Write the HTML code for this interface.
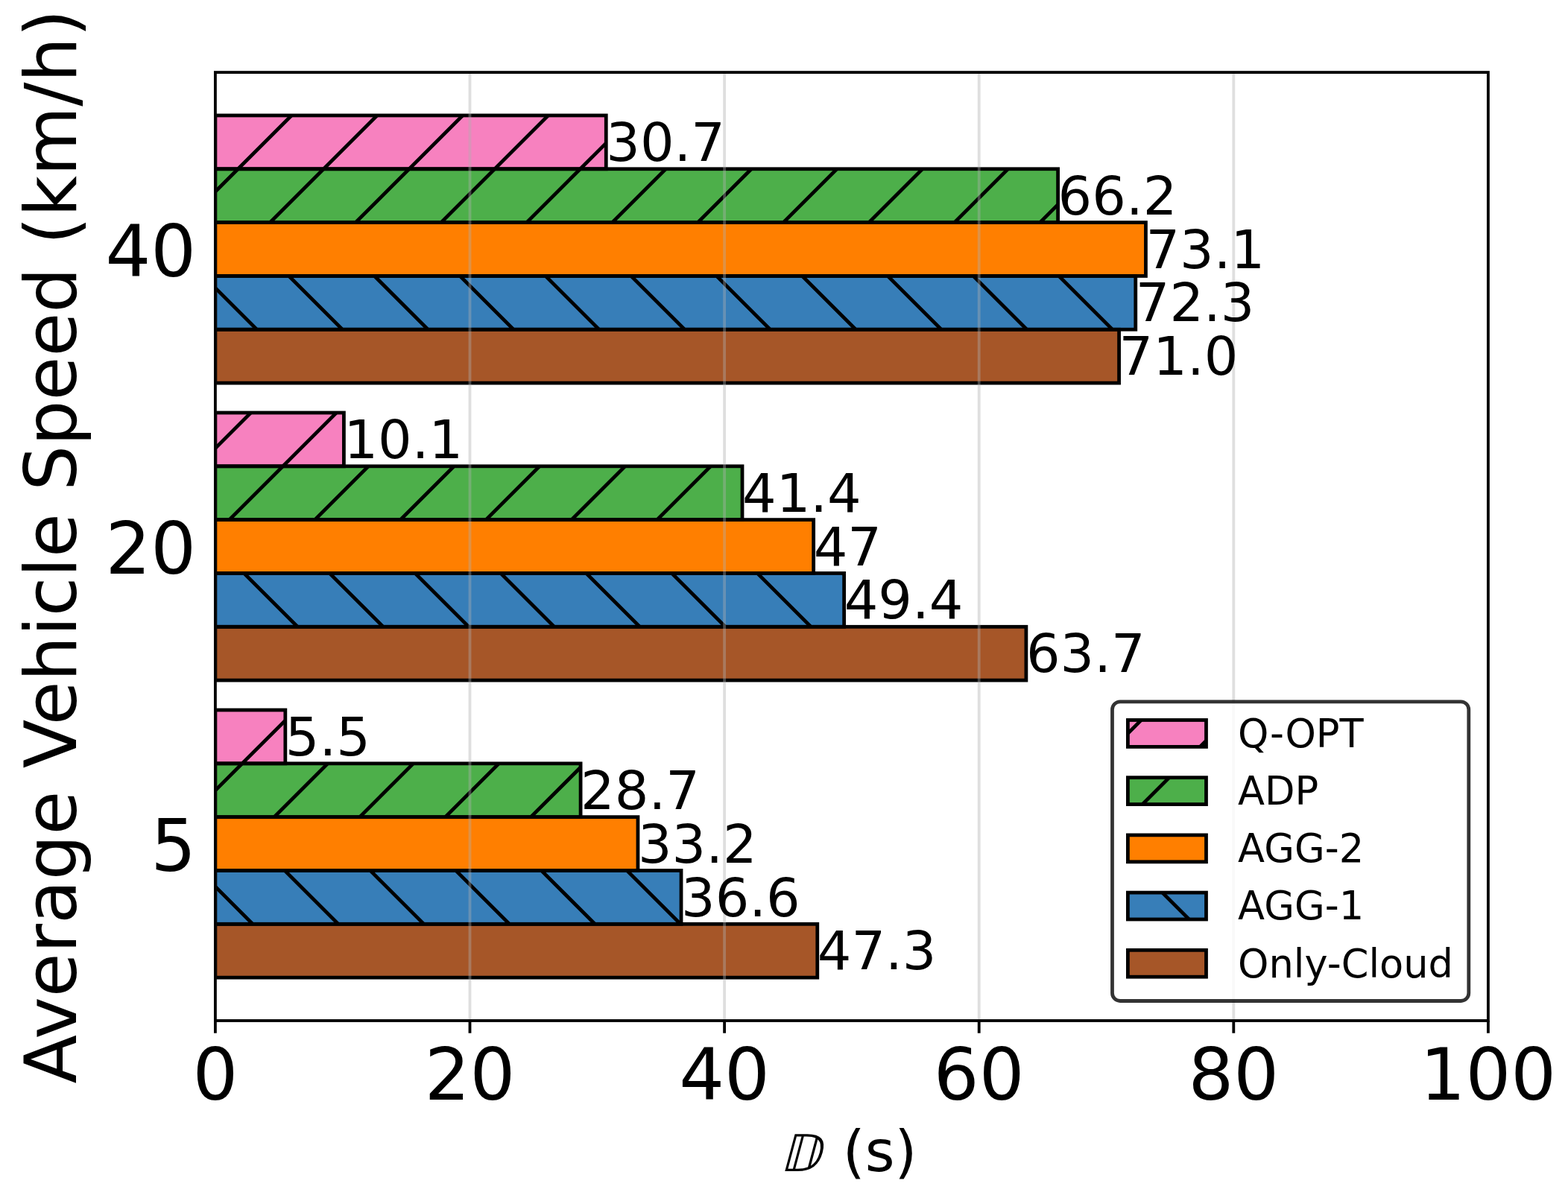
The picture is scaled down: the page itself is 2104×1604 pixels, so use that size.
<!DOCTYPE html>
<html><head><meta charset="utf-8"><title>Average Vehicle Speed chart</title>
<style>html,body{margin:0;padding:0;background:#fff;}svg{display:block;}text{font-family:"DejaVu Sans","Liberation Sans",sans-serif;fill:#000;}</style></head><body>
<svg width="2104" height="1604" viewBox="0 0 2104 1604">
<rect x="0" y="0" width="2104" height="1604" fill="#ffffff"/>
<defs>
<clipPath id="cf"><rect x="288.90" y="953.02" width="93.94" height="71.83"/><rect x="288.90" y="553.99" width="172.51" height="71.83"/><rect x="288.90" y="154.96" width="524.36" height="71.83"/><rect x="288.90" y="1024.84" width="490.20" height="71.83"/><rect x="288.90" y="625.81" width="707.11" height="71.83"/><rect x="288.90" y="226.78" width="1130.70" height="71.83"/></clipPath>
<clipPath id="cfl"><rect x="1513.40" y="966.50" width="105.10" height="35.90"/><rect x="1513.40" y="1043.70" width="105.10" height="35.90"/></clipPath>
<clipPath id="cb"><rect x="288.90" y="1168.49" width="625.13" height="71.83"/><rect x="288.90" y="769.46" width="843.75" height="71.83"/><rect x="288.90" y="370.43" width="1234.88" height="71.83"/></clipPath>
<clipPath id="cbl"><rect x="1513.40" y="1198.10" width="105.10" height="35.90"/></clipPath>
<clipPath id="axclip"><rect x="288.90" y="97.10" width="1708.00" height="1272.90"/></clipPath>
</defs>
<g id="bars" clip-path="url(#axclip)">
<rect x="288.90" y="953.02" width="93.94" height="71.83" fill="#f781bf"/>
<rect x="288.90" y="553.99" width="172.51" height="71.83" fill="#f781bf"/>
<rect x="288.90" y="154.96" width="524.36" height="71.83" fill="#f781bf"/>
<rect x="288.90" y="1024.84" width="490.20" height="71.83" fill="#4daf4a"/>
<rect x="288.90" y="625.81" width="707.11" height="71.83" fill="#4daf4a"/>
<rect x="288.90" y="226.78" width="1130.70" height="71.83" fill="#4daf4a"/>
<rect x="288.90" y="1096.67" width="567.06" height="71.83" fill="#ff7f00"/>
<rect x="288.90" y="697.64" width="802.76" height="71.83" fill="#ff7f00"/>
<rect x="288.90" y="298.61" width="1248.55" height="71.83" fill="#ff7f00"/>
<rect x="288.90" y="1168.49" width="625.13" height="71.83" fill="#377eb8"/>
<rect x="288.90" y="769.46" width="843.75" height="71.83" fill="#377eb8"/>
<rect x="288.90" y="370.43" width="1234.88" height="71.83" fill="#377eb8"/>
<rect x="288.90" y="1240.32" width="807.88" height="71.83" fill="#a65628"/>
<rect x="288.90" y="841.29" width="1088.00" height="71.83" fill="#a65628"/>
<rect x="288.90" y="442.26" width="1212.68" height="71.83" fill="#a65628"/>
<path clip-path="url(#cf)" d="M-1178.20 1380.00L114.70 87.10M-1063.40 1380.00L229.50 87.10M-948.60 1380.00L344.30 87.10M-833.80 1380.00L459.10 87.10M-719.00 1380.00L573.90 87.10M-604.20 1380.00L688.70 87.10M-489.40 1380.00L803.50 87.10M-374.60 1380.00L918.30 87.10M-259.80 1380.00L1033.10 87.10M-145.00 1380.00L1147.90 87.10M-30.20 1380.00L1262.70 87.10M84.60 1380.00L1377.50 87.10M199.40 1380.00L1492.30 87.10M314.20 1380.00L1607.10 87.10M429.00 1380.00L1721.90 87.10M543.80 1380.00L1836.70 87.10M658.60 1380.00L1951.50 87.10M773.40 1380.00L2066.30 87.10M888.20 1380.00L2181.10 87.10M1003.00 1380.00L2295.90 87.10M1117.80 1380.00L2410.70 87.10M1232.60 1380.00L2525.50 87.10M1347.40 1380.00L2640.30 87.10M1462.20 1380.00L2755.10 87.10M1577.00 1380.00L2869.90 87.10M1691.80 1380.00L2984.70 87.10" stroke="#000" stroke-width="4.78" fill="none"/>
<path clip-path="url(#cb)" d="M-1158.50 87.10L134.40 1380.00M-1043.70 87.10L249.20 1380.00M-928.90 87.10L364.00 1380.00M-814.10 87.10L478.80 1380.00M-699.30 87.10L593.60 1380.00M-584.50 87.10L708.40 1380.00M-469.70 87.10L823.20 1380.00M-354.90 87.10L938.00 1380.00M-240.10 87.10L1052.80 1380.00M-125.30 87.10L1167.60 1380.00M-10.50 87.10L1282.40 1380.00M104.30 87.10L1397.20 1380.00M219.10 87.10L1512.00 1380.00M333.90 87.10L1626.80 1380.00M448.70 87.10L1741.60 1380.00M563.50 87.10L1856.40 1380.00M678.30 87.10L1971.20 1380.00M793.10 87.10L2086.00 1380.00M907.90 87.10L2200.80 1380.00M1022.70 87.10L2315.60 1380.00M1137.50 87.10L2430.40 1380.00M1252.30 87.10L2545.20 1380.00M1367.10 87.10L2660.00 1380.00M1481.90 87.10L2774.80 1380.00M1596.70 87.10L2889.60 1380.00M1711.50 87.10L3004.40 1380.00" stroke="#000" stroke-width="4.78" fill="none"/>
<rect x="288.90" y="953.02" width="93.94" height="71.83" fill="none" stroke="#000" stroke-width="4.78" stroke-linejoin="miter"/>
<rect x="288.90" y="553.99" width="172.51" height="71.83" fill="none" stroke="#000" stroke-width="4.78" stroke-linejoin="miter"/>
<rect x="288.90" y="154.96" width="524.36" height="71.83" fill="none" stroke="#000" stroke-width="4.78" stroke-linejoin="miter"/>
<rect x="288.90" y="1024.84" width="490.20" height="71.83" fill="none" stroke="#000" stroke-width="4.78" stroke-linejoin="miter"/>
<rect x="288.90" y="625.81" width="707.11" height="71.83" fill="none" stroke="#000" stroke-width="4.78" stroke-linejoin="miter"/>
<rect x="288.90" y="226.78" width="1130.70" height="71.83" fill="none" stroke="#000" stroke-width="4.78" stroke-linejoin="miter"/>
<rect x="288.90" y="1096.67" width="567.06" height="71.83" fill="none" stroke="#000" stroke-width="4.78" stroke-linejoin="miter"/>
<rect x="288.90" y="697.64" width="802.76" height="71.83" fill="none" stroke="#000" stroke-width="4.78" stroke-linejoin="miter"/>
<rect x="288.90" y="298.61" width="1248.55" height="71.83" fill="none" stroke="#000" stroke-width="4.78" stroke-linejoin="miter"/>
<rect x="288.90" y="1168.49" width="625.13" height="71.83" fill="none" stroke="#000" stroke-width="4.78" stroke-linejoin="miter"/>
<rect x="288.90" y="769.46" width="843.75" height="71.83" fill="none" stroke="#000" stroke-width="4.78" stroke-linejoin="miter"/>
<rect x="288.90" y="370.43" width="1234.88" height="71.83" fill="none" stroke="#000" stroke-width="4.78" stroke-linejoin="miter"/>
<rect x="288.90" y="1240.32" width="807.88" height="71.83" fill="none" stroke="#000" stroke-width="4.78" stroke-linejoin="miter"/>
<rect x="288.90" y="841.29" width="1088.00" height="71.83" fill="none" stroke="#000" stroke-width="4.78" stroke-linejoin="miter"/>
<rect x="288.90" y="442.26" width="1212.68" height="71.83" fill="none" stroke="#000" stroke-width="4.78" stroke-linejoin="miter"/>
</g>
<g id="grid" clip-path="url(#axclip)" stroke="#b0b0b0" stroke-opacity="0.4" stroke-width="3.83">
<line x1="288.90" y1="1370.00" x2="288.90" y2="97.10"/>
<line x1="630.50" y1="1370.00" x2="630.50" y2="97.10"/>
<line x1="972.10" y1="1370.00" x2="972.10" y2="97.10"/>
<line x1="1313.70" y1="1370.00" x2="1313.70" y2="97.10"/>
<line x1="1655.30" y1="1370.00" x2="1655.30" y2="97.10"/>
<line x1="1996.90" y1="1370.00" x2="1996.90" y2="97.10"/>
</g>
<rect x="288.90" y="97.10" width="1708.00" height="1272.90" fill="none" stroke="#000" stroke-width="3.83" stroke-linejoin="miter" stroke-linecap="square"/>
<g stroke="#000" stroke-width="3.83">
<line x1="288.90" y1="1370.00" x2="288.90" y2="1386.74"/>
<line x1="630.50" y1="1370.00" x2="630.50" y2="1386.74"/>
<line x1="972.10" y1="1370.00" x2="972.10" y2="1386.74"/>
<line x1="1313.70" y1="1370.00" x2="1313.70" y2="1386.74"/>
<line x1="1655.30" y1="1370.00" x2="1655.30" y2="1386.74"/>
<line x1="1996.90" y1="1370.00" x2="1996.90" y2="1386.74"/>
</g>
<g id="vals" font-size="71.75">
<text x="382.84" y="1014.03">5.5</text>
<text x="461.41" y="615.00">10.1</text>
<text x="813.26" y="215.97">30.7</text>
<text x="779.10" y="1085.85">28.7</text>
<text x="996.01" y="686.82">41.4</text>
<text x="1419.60" y="287.80">66.2</text>
<text x="855.96" y="1157.68">33.2</text>
<text x="1091.66" y="758.65">47</text>
<text x="1537.45" y="359.62">73.1</text>
<text x="914.03" y="1229.50">36.6</text>
<text x="1132.65" y="830.48">49.4</text>
<text x="1523.78" y="431.45">72.3</text>
<text x="1096.78" y="1301.33">47.3</text>
<text x="1376.90" y="902.30">63.7</text>
<text x="1501.58" y="503.27">71.0</text>
</g>
<g id="yticks" font-size="95.67" text-anchor="end">
<text x="263.2" y="1168.88">5</text>
<text x="263.2" y="769.85">20</text>
<text x="263.2" y="370.82">40</text>
</g>
<g id="xticks" font-size="95.67" text-anchor="middle">
<text x="288.90" y="1476.3">0</text>
<text x="630.50" y="1476.3">20</text>
<text x="972.10" y="1476.3">40</text>
<text x="1313.70" y="1476.3">60</text>
<text x="1655.30" y="1476.3">80</text>
<text x="1996.90" y="1476.3">100</text>
</g>
<text transform="translate(1045.8 1571.8) skewX(-15) scale(0.97 1)" font-size="68.3">𝔻</text>
<text x="1130.85" y="1572.0" font-size="76.53">(s)</text>
<text transform="translate(102.0 733.55) rotate(-90)" font-size="95.67" text-anchor="middle">Average Vehicle Speed (km/h)</text>
<rect x="1492.50" y="941.80" width="478.30" height="401.70" rx="10.52" ry="10.52" fill="#ffffff" fill-opacity="0.8" stroke="#000" stroke-opacity="0.8" stroke-width="4.78"/>
<rect x="1513.40" y="966.50" width="105.10" height="35.90" fill="#f781bf"/>
<rect x="1513.40" y="1043.70" width="105.10" height="35.90" fill="#4daf4a"/>
<rect x="1513.40" y="1120.90" width="105.10" height="35.90" fill="#ff7f00"/>
<rect x="1513.40" y="1198.10" width="105.10" height="35.90" fill="#377eb8"/>
<rect x="1513.40" y="1275.30" width="105.10" height="35.90" fill="#a65628"/>
<path clip-path="url(#cfl)" d="M908.20 1360.00L1338.20 930.00M1023.00 1360.00L1453.00 930.00M1137.80 1360.00L1567.80 930.00M1252.60 1360.00L1682.60 930.00M1367.40 1360.00L1797.40 930.00M1482.20 1360.00L1912.20 930.00M1597.00 1360.00L2027.00 930.00M1711.80 1360.00L2141.80 930.00M1826.60 1360.00L2256.60 930.00" stroke="#000" stroke-width="4.78" fill="none"/>
<path clip-path="url(#cbl)" d="M947.20 930.00L1377.20 1360.00M1062.00 930.00L1492.00 1360.00M1176.80 930.00L1606.80 1360.00M1291.60 930.00L1721.60 1360.00M1406.40 930.00L1836.40 1360.00M1521.20 930.00L1951.20 1360.00M1636.00 930.00L2066.00 1360.00M1750.80 930.00L2180.80 1360.00" stroke="#000" stroke-width="4.78" fill="none"/>
<rect x="1513.40" y="966.50" width="105.10" height="35.90" fill="none" stroke="#000" stroke-width="4.78"/>
<rect x="1513.40" y="1043.70" width="105.10" height="35.90" fill="none" stroke="#000" stroke-width="4.78"/>
<rect x="1513.40" y="1120.90" width="105.10" height="35.90" fill="none" stroke="#000" stroke-width="4.78"/>
<rect x="1513.40" y="1198.10" width="105.10" height="35.90" fill="none" stroke="#000" stroke-width="4.78"/>
<rect x="1513.40" y="1275.30" width="105.10" height="35.90" fill="none" stroke="#000" stroke-width="4.78"/>
<g font-size="52.62">
<text x="1661.1" y="1002.80">Q-OPT</text>
<text x="1661.1" y="1080.00">ADP</text>
<text x="1661.1" y="1157.20">AGG-2</text>
<text x="1661.1" y="1234.40">AGG-1</text>
<text x="1661.1" y="1311.60">Only-Cloud</text>
</g>
</svg>
</body></html>
